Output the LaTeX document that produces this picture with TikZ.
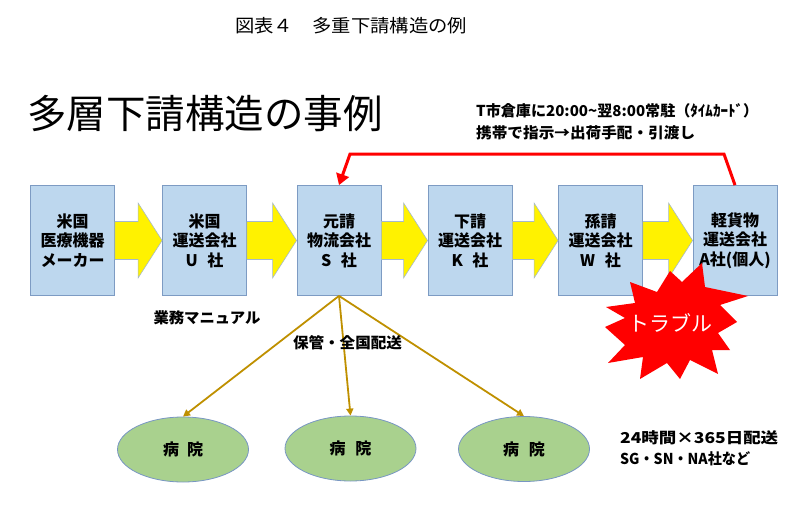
\documentclass[tikz,border=0pt]{standalone}
\usepackage{fontspec}
\usepackage{graphicx}
\newfontfamily\jp{Noto Sans CJK JP}
\usetikzlibrary{calc,arrows.meta,shapes.geometric}
\definecolor{boxfill}{RGB}{189,215,238}
\definecolor{boxline}{RGB}{125,155,195}
\definecolor{hosp}{RGB}{169,209,142}
\definecolor{hospline}{RGB}{120,150,195}
\definecolor{gold}{RGB}{191,144,0}
\definecolor{arrline}{RGB}{165,185,205}
\newcommand\fitw[2]{\resizebox{#1}{\height}{#2}}
\begin{document}
\begin{tikzpicture}[x=1pt,y=-1pt,
  company/.style={draw=boxline, line width=0.8pt, fill=boxfill, minimum width=84pt, minimum height=110pt, inner sep=0pt, align=center, font=\jp\bfseries\fontsize{16}{19.5}\selectfont},
  hospital/.style={ellipse, draw=hospline, line width=0.8pt, fill=hosp, minimum width=131pt, minimum height=65pt, inner sep=0pt, font=\jp\bfseries\fontsize{16}{18}\selectfont},
  note/.style={inner sep=0pt, font=\jp\bfseries\fontsize{15}{18}\selectfont},
  blockarrow/.style={fill=yellow, draw=arrline, line width=0.6pt, line join=miter},
  redline/.style={draw=red, line width=3pt, line join=miter, -{Triangle[length=11pt,width=13pt]}},
  goldline/.style={draw=gold, line width=1.8pt, -{Triangle[length=7pt,width=7pt]}},
]
\useasboundingbox (0,0) rectangle (800,508);

% caption and title
\node[inner sep=0pt, font=\jp\fontsize{18}{20}\selectfont] (cap) at (351,26) {\fitw{232pt}{図表４　多重下請構造の例}};
\node[inner sep=0pt, font=\jp\fontsize{39.5}{44}\selectfont] (title) at (205,114) {多層下請構造の事例};

% companies
\node[company] (b1) at (72.5,240.5) {米国\\医療機器\\メーカー};
\node[company] (b2) at (204.5,240.5) {米国\\運送会社\\U\hspace{0.6em}社};
\node[company] (b3) at (339,240.5) {元請\\物流会社\\S\hspace{0.6em}社};
\node[company] (b4) at (470,240.5) {下請\\運送会社\\K\hspace{0.6em}社};
\node[company] (b5) at (600.5,240.5) {孫請\\運送会社\\W\hspace{0.6em}社};
\node[company] (b6) at (735,240.5) {軽貨物\\運送会社\\A社(個人)};

% yellow block arrows
\foreach \a/\b in {b1/b2,b2/b3,b3/b4,b4/b5,b5/b6}{
  \filldraw[blockarrow] let \p1=(\a.east), \p2=(\b.west) in
    (\x1,\y1+19pt) -- (\x2-24pt,\y1+19pt) -- (\x2-24pt,\y1+37.5pt) -- (\x2,\y1)
    -- (\x2-24pt,\y1-37.5pt) -- (\x2-24pt,\y1-19pt) -- (\x1,\y1-19pt) -- cycle;
}

% red feedback connector
\draw[redline] (b6.north) -- ($(b6.north)+(-11,-31)$) -- ($(b3.north)+(11,-31)$) -- (b3.north);
\node[note, anchor=west] (t1) at (476,111) {\fitw{282pt}{T市倉庫に20:00\textasciitilde 翌8:00常駐（ﾀｲﾑｶｰﾄﾞ）}};
\node[note, anchor=west] (t2) at (476,133) {\fitw{219pt}{携帯で指示→出荷手配・引渡し}};

% hospitals
\node[hospital] (h1) at (183,449.5) {病\hspace{0.5em}院};
\node[hospital] (h2) at (350.5,448.5) {病\hspace{0.6em}院};
\node[hospital] (h3) at (524,449) {病\hspace{0.6em}院};
\draw[goldline] (b3.south) -- (h1.north);
\draw[goldline] (b3.south) -- (h2.north);
\draw[goldline] (b3.south) -- (h3.north);

\node[note] (manual) at (207,318) {\fitw{107pt}{業務マニュアル}};
\node[note] (hokan) at (347.5,343) {\fitw{109pt}{保管・全国配送}};
\node[note, anchor=west] (n1) at (620,438) {\fitw{158pt}{24時間×365日配送}};
\node[note, anchor=west] (n2) at (620,459) {\fitw{130pt}{SG・SN・NA社など}};

% trouble starburst
\fill[red] (630,282) -- (657,292) -- (670,271) -- (682,282) -- (702,263) -- (705,287)
  -- (748,296) -- (720,305) -- (737,322) -- (718,333) -- (730,350) -- (712,350)
  -- (718,374) -- (690,360) -- (680,379) -- (667,363) -- (640,379) -- (643,357)
  -- (608,363) -- (625,345) -- (605,327) -- (625,318) -- (606,307) -- (635,303) -- cycle;
\node[inner sep=0pt, text=white, font=\jp\fontsize{21}{24}\selectfont] (trouble) at (670,323) {トラブル};
\end{tikzpicture}
\end{document}
